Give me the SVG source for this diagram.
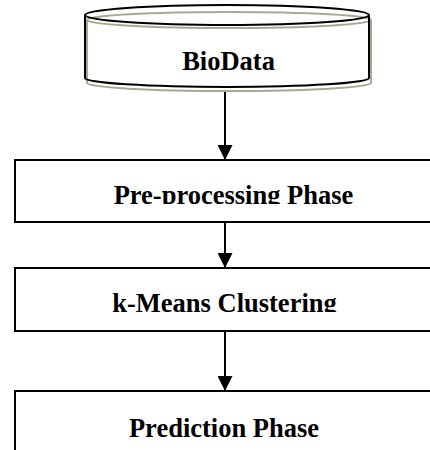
<svg xmlns="http://www.w3.org/2000/svg" width="430" height="450" viewBox="0 0 430 450">
<style>
  .box { fill: #ffffff; stroke: #000000; stroke-width: 2; }
  .lbl { font-family: "Liberation Serif", "Times New Roman", serif; font-weight: bold; font-size: 26.5px; fill: #000000; text-anchor: middle; }
  .edge { stroke: #000000; stroke-width: 2; fill: none; }
  .cyl { fill: none; stroke: #000000; stroke-width: 2; }
  .shadow { fill: none; stroke: #a3ab91; stroke-width: 2; }
</style>
<defs>
  <marker id="arrow" viewBox="0 0 15 15" refX="15" refY="7.5" markerWidth="15" markerHeight="15" markerUnits="userSpaceOnUse" orient="auto">
    <path d="M0,0 L15,7.5 L0,15 Z" fill="#000000"/>
  </marker>
  <clipPath id="clip1"><rect x="15" y="160" width="420" height="44"/></clipPath>
  <clipPath id="clip2"><rect x="15" y="268" width="420" height="44"/></clipPath>
</defs>
<rect width="430" height="450" fill="#ffffff"/>
<g id="biodata">
  <path class="shadow" d="M87,20 L87,83 A142,8 0 0 0 371,83 L371,20 M87,20 A142,8 0 0 1 371,20 A142,8 0 0 1 87,20 Z"/>
  <path class="cyl" d="M85,15 L85,78 A142,9 0 0 0 369,78 L369,15 M85,15 A142,10 0 0 1 369,15 A142,10 0 0 1 85,15 Z"/>
  <text class="lbl" x="228.5" y="70">BioData</text>
</g>
<g id="preprocessing">
  <rect class="box" x="15" y="160" width="430" height="62"/>
  <text class="lbl" x="233.5" y="204" clip-path="url(#clip1)">Pre-processing Phase</text>
</g>
<g id="kmeans">
  <rect class="box" x="15" y="268" width="430" height="63"/>
  <text class="lbl" x="224.5" y="312" clip-path="url(#clip2)">k-Means Clustering</text>
</g>
<g id="prediction">
  <rect class="box" x="15" y="391" width="430" height="80"/>
  <text class="lbl" x="224" y="437">Prediction Phase</text>
</g>
<g id="connectors">
  <line class="edge" x1="225" y1="92" x2="225" y2="160" marker-end="url(#arrow)"/>
  <line class="edge" x1="225" y1="222" x2="225" y2="268" marker-end="url(#arrow)"/>
  <line class="edge" x1="225" y1="331" x2="225" y2="391" marker-end="url(#arrow)"/>
</g>
</svg>
